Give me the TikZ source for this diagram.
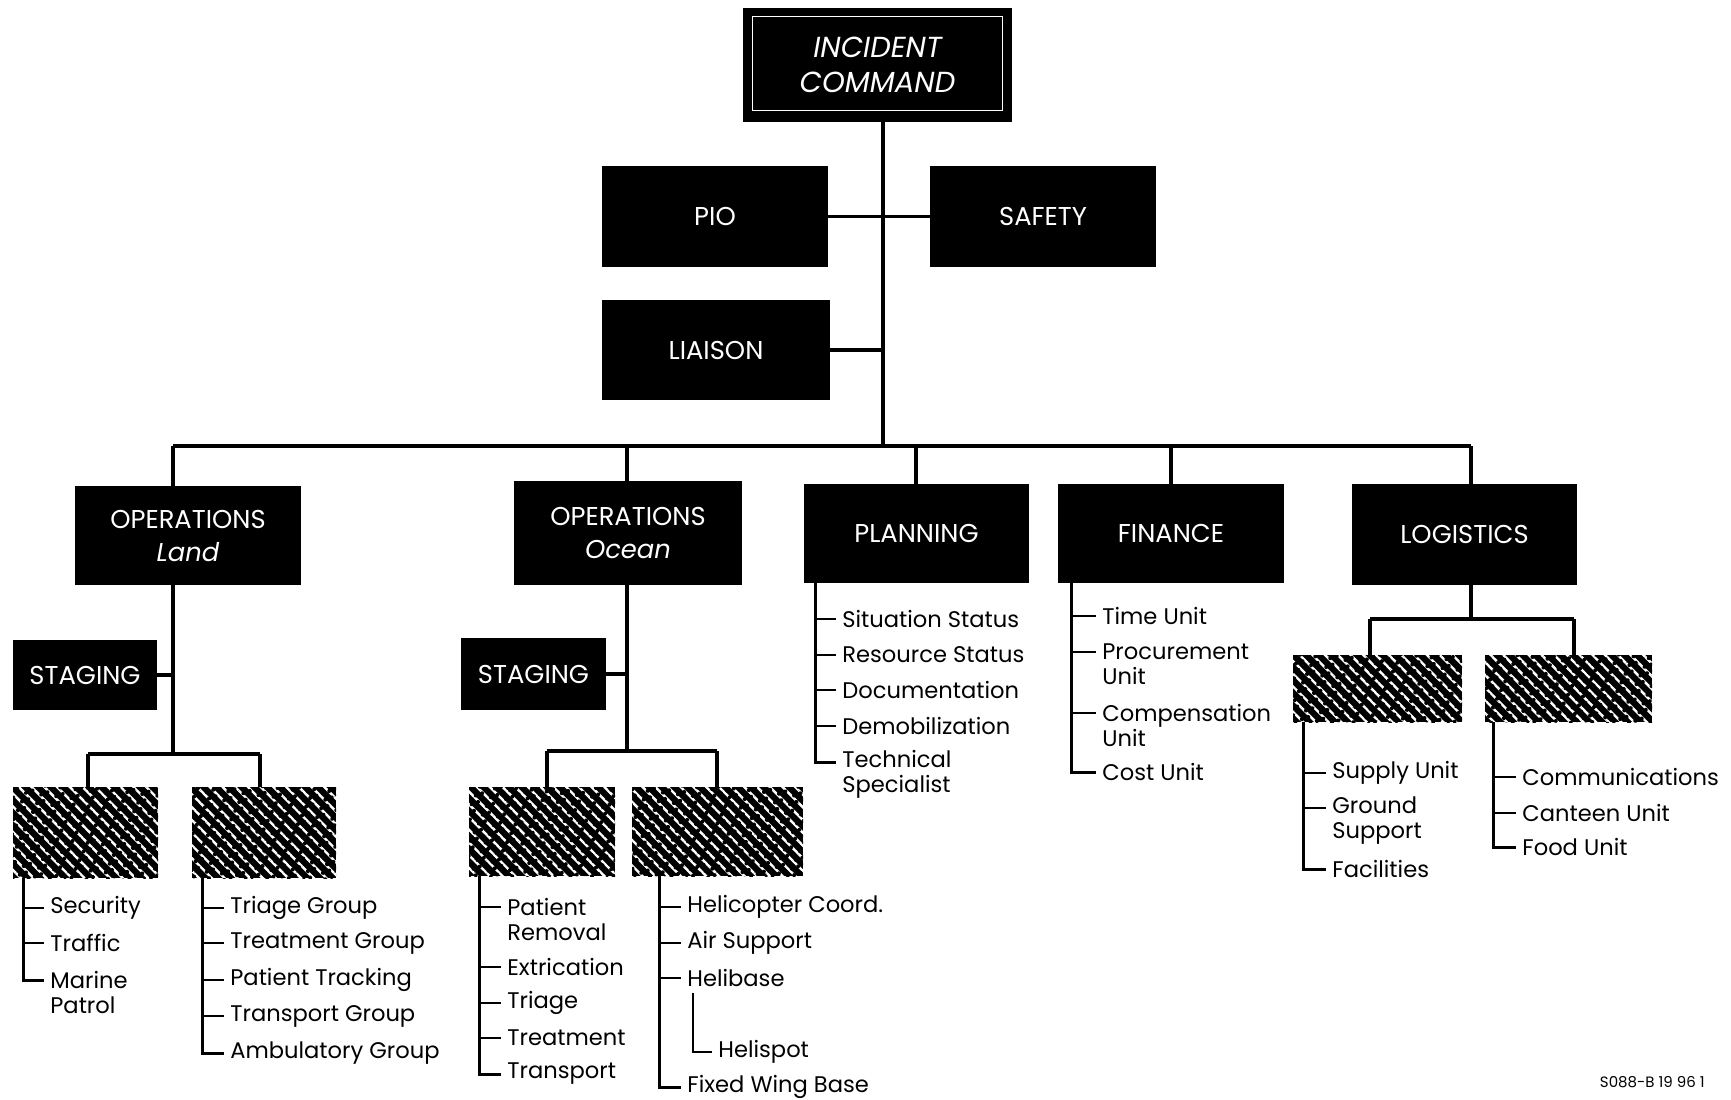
\documentclass[tikz,border=0pt]{standalone}
\usepackage{fontspec}
\setmainfont{Poppins}
\usetikzlibrary{patterns.meta}
\begin{document}
\begin{tikzpicture}[x=0.5pt,y=-0.5pt,
  blk/.style={fill=black, text=white, inner sep=0pt, align=center, font=\fontsize{12.9}{16.5}\selectfont},
  hatch/.style={inner sep=0pt, preaction={fill=black},
     preaction={pattern={Lines[angle=-45,distance=4.5pt,line width=1.2pt]}, pattern color=white},
     pattern={Dots[radius=1pt,distance=3.4pt,angle=20]}, pattern color=black},
  item/.style={anchor=west, inner xsep=3pt, inner ysep=0pt, align=left, font=\fontsize{11.3}{12.5}\selectfont},
  conn/.style={line width=1.7pt},
  lst/.style={line width=1.5pt},
  tick/.style={line width=1.1pt}]
\useasboundingbox (0,0) rectangle (1731,1099);
% ---------- top
\node[blk, minimum width=134.5pt, minimum height=57pt, font=\fontsize{14.5}{17.5}\selectfont\itshape] (ic) at (877.5,65) {INCIDENT\\COMMAND};
\draw[white, line width=0.7pt] ([shift={(5pt,-4.5pt)}]ic.north west) rectangle ([shift={(-5pt,6pt)}]ic.south east);
\node[blk, minimum width=113pt, minimum height=50.5pt] (pio) at (715,216.5) {PIO};
\node[blk, minimum width=113pt, minimum height=50.5pt] (safety) at (1043,216.5) {SAFETY};
\node[blk, minimum width=114pt, minimum height=50pt] (liaison) at (716,350) {LIAISON};
% ---------- sections
\node[blk, minimum width=113pt, minimum height=49.5pt] (opsL) at (188,535.5) {OPERATIONS\\\textit{Land}};
\node[blk, minimum width=114pt, minimum height=52pt] (opsO) at (628,533) {OPERATIONS\\\textit{Ocean}};
\node[blk, minimum width=112.5pt, minimum height=49.5pt] (plan) at (916.5,533.5) {PLANNING};
\node[blk, minimum width=113pt, minimum height=49.5pt] (fin) at (1171,533.5) {FINANCE};
\node[blk, minimum width=112.5pt, minimum height=50.5pt] (log) at (1464.5,534.5) {LOGISTICS};
\node[blk, minimum width=72pt, minimum height=35pt] (stagL) at (85,675) {STAGING};
\node[blk, minimum width=72.5pt, minimum height=36pt] (stagO) at (533.5,674) {STAGING};
% ---------- hatched branch boxes
\node[hatch, minimum width=72.5pt, minimum height=45.5pt] (hL1) at (85.5,832.5) {};
\node[hatch, minimum width=72pt, minimum height=45.5pt] (hL2) at (264,832.5) {};
\node[hatch, minimum width=73pt, minimum height=44.5pt] (hO1) at (542,831.5) {};
\node[hatch, minimum width=85.5pt, minimum height=44.5pt] (hO2) at (717.5,831.5) {};
\node[hatch, minimum width=84.5pt, minimum height=33.5pt] (hG1) at (1377.5,688.5) {};
\node[hatch, minimum width=83.5pt, minimum height=33.5pt] (hG2) at (1568.5,688.5) {};
% ---------- connectors
\coordinate (spine) at (883,446);
\coordinate (b1) at (173,446);
\coordinate (b2) at (627,446);
\coordinate (b3) at (916,446);
\coordinate (b4) at (1171,446);
\coordinate (b5) at (1471,446);
\draw[conn] (ic.south -| spine) -- (spine);
\draw[conn] (pio.east) -- (safety.west);
\draw[conn] (liaison.east) -- (liaison.east -| spine);
\draw[conn] (b1) -- (b5);
\draw[conn] (b1) -- (b1 |- opsL.north);
\draw[conn] (b2) -- (b2 |- opsO.north);
\draw[conn] (b3) -- (b3 |- plan.north);
\draw[conn] (b4) -- (b4 |- fin.north);
\draw[conn] (b5) -- (b5 |- log.north);
% land
\coordinate (lj) at (173,754);
\coordinate (l1) at (88,754);
\coordinate (l2) at (260,754);
\draw[conn] (opsL.south -| lj) -- (lj);
\draw[conn] (stagL.east) -- (stagL.east -| lj);
\draw[conn] (l1) -- (l2);
\draw[conn] (l1) -- (l1 |- hL1.north);
\draw[conn] (l2) -- (l2 |- hL2.north);
% ocean
\coordinate (oj) at (627,751);
\coordinate (o1) at (547,751);
\coordinate (o2) at (717,751);
\draw[conn] (opsO.south -| oj) -- (oj);
\draw[conn] (stagO.east) -- (stagO.east -| oj);
\draw[conn] (o1) -- (o2);
\draw[conn] (o1) -- (o1 |- hO1.north);
\draw[conn] (o2) -- (o2 |- hO2.north);
% logistics
\coordinate (gj) at (1471,619);
\coordinate (g1) at (1370,619);
\coordinate (g2) at (1574,619);
\draw[conn] (log.south -| gj) -- (gj);
\draw[conn] (g1) -- (g2);
\draw[conn] (g1) -- (g1 |- hG1.north);
\draw[conn] (g2) -- (g2 |- hG2.north);
% ---------- lists
% land 1
\coordinate (vL1) at (23,0);
\node[item] (sec) at (44,908) {Security};
\node[item] (traf) at (44,943) {Traffic};
\node[item] (mar) at (44,992.5) {Marine\\Patrol};
\draw[lst] (hL1.south -| vL1) |- ([yshift=6.25pt]mar.west);
\draw[tick] (sec.west -| vL1) -- (sec.west);
\draw[tick] (traf.west -| vL1) -- (traf.west);
% land 2
\coordinate (vL2) at (202,0);
\node[item] (trg) at (224,908) {Triage Group};
\node[item] (trt) at (224,943) {Treatment Group};
\node[item] (ptr) at (224,980) {Patient Tracking};
\node[item] (tsp) at (224,1016) {Transport Group};
\node[item] (amb) at (224,1053) {Ambulatory Group};
\draw[lst] (hL2.south -| vL2) |- (amb.west);
\draw[tick] (trg.west -| vL2) -- (trg.west);
\draw[tick] (trt.west -| vL2) -- (trt.west);
\draw[tick] (ptr.west -| vL2) -- (ptr.west);
\draw[tick] (tsp.west -| vL2) -- (tsp.west);
% ocean 1
\coordinate (vO1) at (479,0);
\node[item] (prem) at (501,919.5) {Patient\\Removal};
\node[item] (extr) at (501,967) {Extrication};
\node[item] (otri) at (501,1003) {Triage};
\node[item] (otre) at (501,1038) {Treatment};
\node[item] (otsp) at (501,1074) {Transport};
\draw[lst] (hO1.south -| vO1) |- (otsp.west);
\draw[tick] ([yshift=6.25pt]prem.west -| vO1) -- ([yshift=6.25pt]prem.west);
\draw[tick] (extr.west -| vO1) -- (extr.west);
\draw[tick] (otri.west -| vO1) -- (otri.west);
\draw[tick] (otre.west -| vO1) -- (otre.west);
% ocean 2
\coordinate (vO2) at (659,0);
\node[item] (heli) at (681,907) {Helicopter Coord.};
\node[item] (airs) at (681,943) {Air Support};
\node[item] (hbase) at (681,978) {Helibase};
\node[item] (hspot) at (712,1052) {Helispot};
\node[item] (fwb) at (681,1087) {Fixed Wing Base};
\draw[lst] (hO2.south -| vO2) |- (fwb.west);
\draw[tick] (heli.west -| vO2) -- (heli.west);
\draw[tick] (airs.west -| vO2) -- (airs.west);
\draw[tick] (hbase.west -| vO2) -- (hbase.west);
\draw[tick] ([xshift=6pt,yshift=-3pt]hbase.south west) |- (hspot.west);
% planning
\coordinate (vP) at (815,0);
\node[item] (sits) at (836,619) {Situation Status};
\node[item] (ress) at (836,655) {Resource Status};
\node[item] (docu) at (836,690) {Documentation};
\node[item] (demo) at (836,726) {Demobilization};
\node[item] (tech) at (836,774.5) {Technical\\Specialist};
\draw[lst] (plan.south -| vP) |- ([yshift=6.25pt]tech.west);
\draw[tick] (sits.west -| vP) -- (sits.west);
\draw[tick] (ress.west -| vP) -- (ress.west);
\draw[tick] (docu.west -| vP) -- (docu.west);
\draw[tick] (demo.west -| vP) -- (demo.west);
% finance
\coordinate (vF) at (1071,0);
\node[item] (time) at (1096,616) {Time Unit};
\node[item] (proc) at (1096,664.5) {Procurement\\Unit};
\node[item] (comp) at (1096,725.5) {Compensation\\Unit};
\node[item] (cost) at (1096,772) {Cost Unit};
\draw[lst] (fin.south -| vF) |- (cost.west);
\draw[tick] (time.west -| vF) -- (time.west);
\draw[tick] ([yshift=6.25pt]proc.west -| vF) -- ([yshift=6.25pt]proc.west);
\draw[tick] ([yshift=6.25pt]comp.west -| vF) -- ([yshift=6.25pt]comp.west);
% logistics 1
\coordinate (vG1) at (1303,0);
\node[item] (sup) at (1326,773) {Supply Unit};
\node[item] (grd) at (1326,820.5) {Ground\\Support};
\node[item] (fac) at (1326,869) {Facilities};
\draw[lst] (hG1.south -| vG1) |- (fac.west);
\draw[tick] (sup.west -| vG1) -- (sup.west);
\draw[tick] ([yshift=6.25pt]grd.west -| vG1) -- ([yshift=6.25pt]grd.west);
% logistics 2
\coordinate (vG2) at (1493,0);
\node[item] (comm) at (1516,777) {Communications};
\node[item] (cant) at (1516,813) {Canteen Unit};
\node[item] (food) at (1516,847) {Food Unit};
\draw[lst] (hG2.south -| vG2) |- (food.west);
\draw[tick] (comm.west -| vG2) -- (comm.west);
\draw[tick] (cant.west -| vG2) -- (cant.west);
% footer
\node[anchor=east, inner sep=0pt, font=\fontsize{7.5}{9}\selectfont] (foot) at (1705,1082) {S088-B 19 96 1};
\end{tikzpicture}
\end{document}
